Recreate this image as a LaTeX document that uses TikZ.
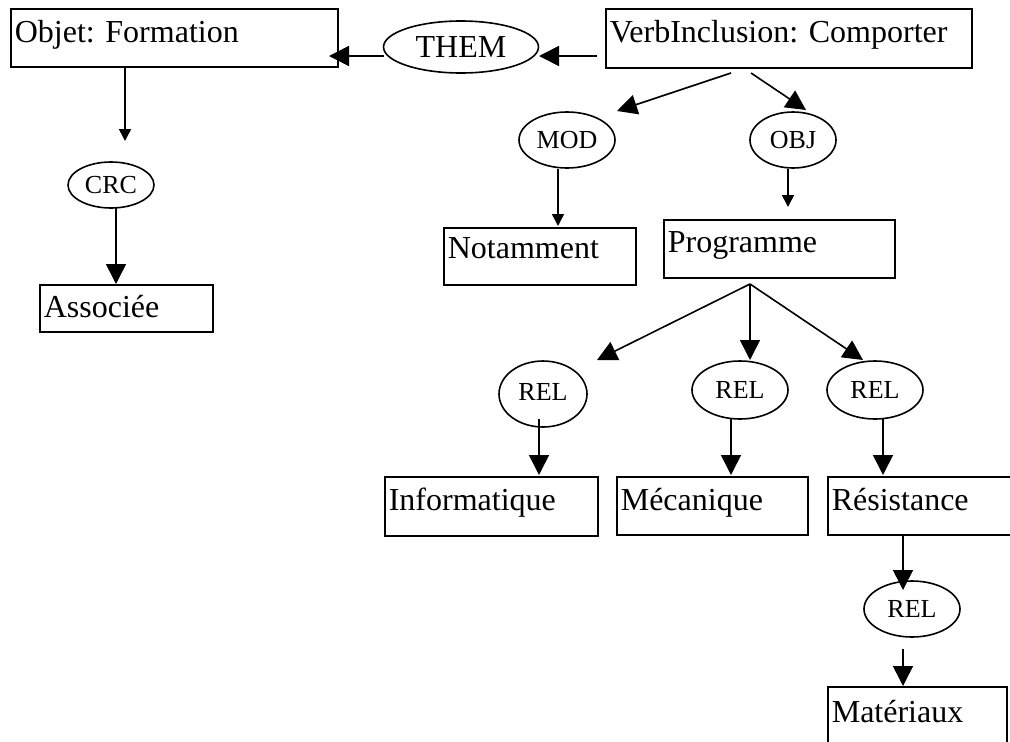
\documentclass[tikz,border=0pt]{standalone}
\usepackage{fontspec}
\setmainfont{Liberation Serif}
\usetikzlibrary{arrows.meta,shapes.geometric}
\newcommand\mybigfont{\fontsize{32}{38}\selectfont}
\newcommand\mysmallfont{\fontsize{26}{31}\selectfont}
\frenchspacing
\tikzset{
  conbox/.style={draw, line width=1.6pt, anchor=north west, inner xsep=4pt,
    inner ysep=0pt, align=left, font=\mybigfont, text height=34pt},
  relnode/.style={draw, ellipse, line width=1.6pt, inner sep=0pt, font=\mysmallfont},
  bigarr/.style={line width=1.6pt, -{Triangle[length=20pt,width=20pt]}},
  smallarr/.style={line width=1.6pt, -{Triangle[length=12pt,width=12pt]}},
}
\begin{document}
\begin{tikzpicture}[x=1pt,y=-1pt]
\useasboundingbox (0,0) rectangle (1010,742);
\clip (0,0) rectangle (1010,742);
\fill[white] (0,0) rectangle (1010,742);

% boxes
\node[conbox, text width=319pt, text depth=24pt] (obj) at (10,8) {Objet: Formation};
\node[conbox, text width=358pt, text depth=25pt] (verb) at (605,8) {VerbInclusion: Comporter};
\node[conbox, text width=184pt, text height=31pt, text depth=26pt] (notam) at (443,227) {Notamment};
\node[conbox, text width=223pt, text height=33pt, text depth=25pt] (prog) at (663,219) {Programme};
\node[conbox, text width=165pt, text height=33pt, text depth=14pt] (assoc) at (39,284) {Associée};
\node[conbox, text width=205pt, text depth=25pt] (info) at (384,476) {Informatique};
\node[conbox, text width=183pt, text depth=24pt] (meca) at (616,476) {Mécanique};
\node[conbox, text width=212pt, text depth=24pt] (resist) at (827,476) {Résistance};
\node[conbox, text width=171pt, text height=36pt, text depth=44pt] (mater) at (827,686) {Matériaux};

% ellipses
\node[relnode, font=\mybigfont, minimum width=155pt, minimum height=52pt] (them) at (461,47) {THEM};
\node[relnode, minimum width=86pt, minimum height=46pt] (crc) at (111,185) {CRC};
\node[relnode, minimum width=96pt, minimum height=56pt] (mod) at (567,140) {MOD};
\node[relnode, minimum width=86pt, minimum height=56pt] (objr) at (793,140) {OBJ};
\node[relnode, minimum width=88pt, minimum height=66pt] (relA) at (543,394) {\raisebox{4pt}{REL}};
\node[relnode, minimum width=96pt, minimum height=58pt] (relB) at (740,390) {REL};
\node[relnode, minimum width=96pt, minimum height=58pt] (relC) at (875,390) {REL};
\node[relnode, minimum width=96pt, minimum height=56pt] (relD) at (912,609) {REL};

% connector end points
\coordinate (verbW) at (597,56);
\coordinate (themE) at (539,56);
\coordinate (themW) at (384,56);
\coordinate (objE) at (329,56);
\coordinate (objS) at (125,66);
\coordinate (crcN) at (125,141);
\coordinate (crcS) at (116,207);
\coordinate (assocN) at (116,284);
\coordinate (verbS1) at (731,73);
\coordinate (verbS2) at (751,73);
\coordinate (modN) at (617,111);
\coordinate (objrN) at (806,110);
\coordinate (modS) at (558,169);
\coordinate (notamN) at (558,226);
\coordinate (objrS) at (788,169);
\coordinate (progN) at (788,207);
\coordinate (progS) at (750,284);
\coordinate (relAN) at (597,360);
\coordinate (relBN) at (750,360);
\coordinate (relCN) at (863,360);
\coordinate (relAS) at (539,419);
\coordinate (infoN) at (539,475);
\coordinate (relBS) at (731,418);
\coordinate (mecaN) at (731,475);
\coordinate (relCS) at (883,418);
\coordinate (resistN) at (883,475);
\coordinate (resistS) at (903,534);
\coordinate (relDN) at (903,590);
\coordinate (relDS) at (903,649);
\coordinate (materN) at (903,686);

% connectors
\draw[bigarr] (verbW) -- (themE);
\draw[bigarr] (themW) -- (objE);
\draw[smallarr] (objS) -- (crcN);
\draw[bigarr] (crcS) -- (assocN);
\draw[bigarr] (verbS1) -- (modN);
\draw[bigarr] (verbS2) -- (objrN);
\draw[smallarr] (modS) -- (notamN);
\draw[smallarr] (objrS) -- (progN);
\draw[bigarr] (progS) -- (relAN);
\draw[bigarr] (progS) -- (relBN);
\draw[bigarr] (progS) -- (relCN);
\draw[bigarr] (relAS) -- (infoN);
\draw[bigarr] (relBS) -- (mecaN);
\draw[bigarr] (relCS) -- (resistN);
\draw[bigarr] (resistS) -- (relDN);
\draw[bigarr] (relDS) -- (materN);
\end{tikzpicture}
\end{document}
